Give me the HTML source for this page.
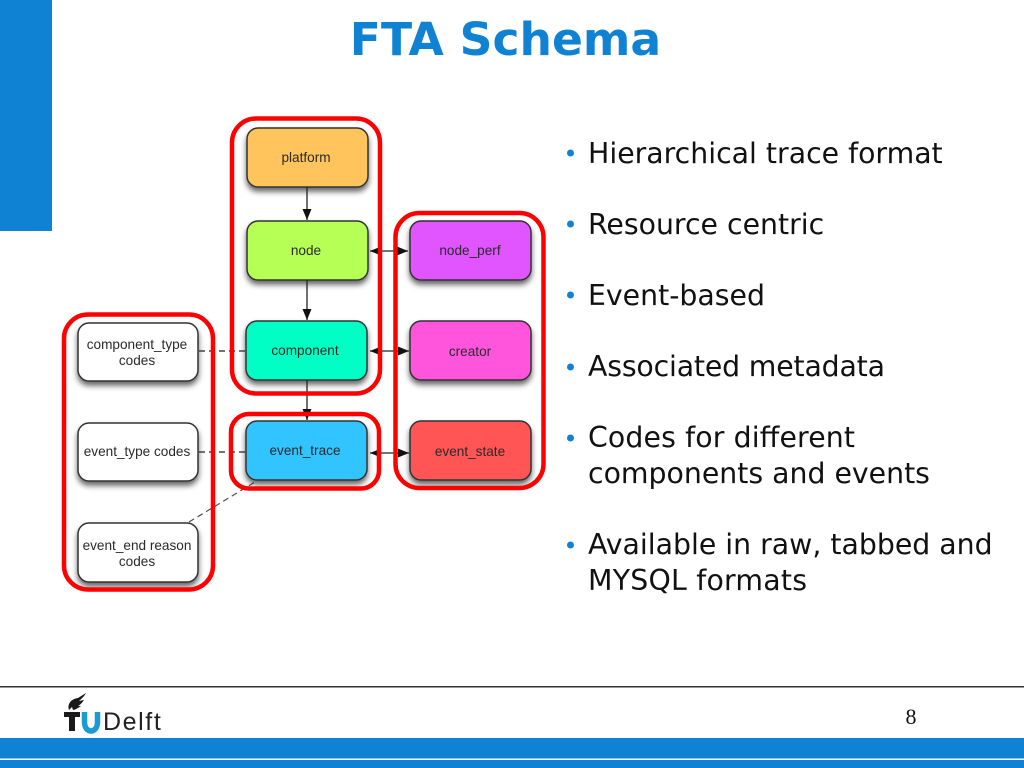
<!DOCTYPE html>
<html><head><meta charset="utf-8"><style>
html,body{margin:0;padding:0;background:#fff;width:1024px;height:768px;overflow:hidden}
svg{display:block}
.n{font:13.6px "Liberation Sans",sans-serif;text-anchor:middle;fill:#2a2a2a}
.b{font:28.35px "DejaVu Sans",sans-serif;fill:#111}
.nd{stroke:#333;stroke-width:1.5;filter:url(#s)}
.r{fill:none;stroke:#f00;stroke-width:4.5}
.l{stroke:#222;stroke-width:1.3;fill:none}
.da{stroke:#222;stroke-width:1.2;fill:none;stroke-dasharray:6 4}
</style></head><body>
<svg width="1024" height="768" viewBox="0 0 1024 768" xmlns="http://www.w3.org/2000/svg">
<defs>
<filter id="s" x="-20%" y="-20%" width="140%" height="150%"><feDropShadow dx="0" dy="4" stdDeviation="3" flood-color="#000" flood-opacity=".6"/></filter>
<marker id="a" markerWidth="12" markerHeight="10" refX="11" refY="4.500" orient="auto-start-reverse" markerUnits="userSpaceOnUse"><path d="M0 0L11 4.500L0 9Z" fill="#111"/></marker>
</defs>
<rect width="1024" height="768" fill="#fff"/>
<rect x="0" y="0" width="52" height="231" fill="#0f82d4"/>
<text x="505.500" y="55" font-family="DejaVu Sans" font-weight="bold" font-size="45.6" text-anchor="middle" fill="#0f82d4">FTA Schema</text>

<rect class="nd" x="247" y="128" width="121" height="59" rx="11" fill="#ffc45c"/>
<rect class="nd" x="247" y="221" width="121" height="59" rx="11" fill="#b6ff55"/>
<rect class="nd" x="246" y="321" width="121" height="59" rx="11" fill="#00ffc4"/>
<rect class="nd" x="246" y="421" width="121" height="59" rx="11" fill="#33c4ff"/>
<rect class="nd" x="410" y="221" width="121" height="59" rx="11" fill="#e055ff"/>
<rect class="nd" x="410" y="321" width="121" height="59" rx="11" fill="#ff55dc"/>
<rect class="nd" x="410" y="421" width="121" height="59" rx="11" fill="#ff5555"/>
<rect class="nd" x="78" y="323" width="120" height="58" rx="11" fill="#fff"/>
<rect class="nd" x="78" y="423" width="120" height="58" rx="11" fill="#fff"/>
<rect class="nd" x="78" y="523" width="120" height="59" rx="11" fill="#fff"/>

<line class="l" x1="307" y1="187" x2="307" y2="220" marker-end="url(#a)"/>
<line class="l" x1="307" y1="280" x2="307" y2="320" marker-end="url(#a)"/>
<line class="l" x1="307" y1="380" x2="307" y2="420" marker-end="url(#a)"/>
<line class="l" x1="370" y1="251" x2="408" y2="251" marker-start="url(#a)" marker-end="url(#a)"/>
<line class="l" x1="370" y1="351" x2="409" y2="351" marker-start="url(#a)" marker-end="url(#a)"/>
<line class="l" x1="370" y1="453" x2="409" y2="453" marker-start="url(#a)" marker-end="url(#a)"/>
<line class="da" x1="199" y1="351" x2="245" y2="351"/>
<line class="da" x1="199" y1="452" x2="245" y2="452"/>
<line class="da" x1="189" y1="522" x2="255" y2="482" stroke-opacity=".8"/>

<text class="n" x="306" y="162">platform</text>
<text class="n" x="306" y="255">node</text>
<text class="n" x="305" y="355">component</text>
<text class="n" x="305" y="455">event_trace</text>
<text class="n" x="470" y="255">node_perf</text>
<text class="n" x="470" y="356">creator</text>
<text class="n" x="470" y="456">event_state</text>
<text class="n" x="137" y="349">component_type</text>
<text class="n" x="137" y="365">codes</text>
<text class="n" x="137" y="456">event_type codes</text>
<text class="n" x="137" y="550">event_end reason</text>
<text class="n" x="137" y="566">codes</text>

<rect class="r" x="232" y="118.500" width="148" height="275" rx="24"/>
<rect class="r" x="395.500" y="213" width="148" height="275" rx="24"/>
<rect class="r" x="64" y="314.500" width="149" height="275" rx="24"/>
<rect class="r" x="231" y="414" width="148" height="74.500" rx="18"/>

<g fill="#0f82d4">
<circle cx="570.500" cy="153" r="3.500"/><circle cx="570.500" cy="224" r="3.500"/><circle cx="570.500" cy="295" r="3.500"/>
<circle cx="570.500" cy="367" r="3.500"/><circle cx="570.500" cy="438" r="3.500"/><circle cx="570.500" cy="545" r="3.500"/>
</g>
<text class="b" x="588" y="163">Hierarchical trace format</text>
<text class="b" x="588" y="234">Resource centric</text>
<text class="b" x="588" y="305">Event-based</text>
<text class="b" x="588" y="376" textLength="297">Associated metadata</text>
<text class="b" x="588" y="447" textLength="267">Codes for different</text>
<text class="b" x="588" y="483">components and events</text>
<text class="b" x="588" y="554">Available in raw, tabbed and</text>
<text class="b" x="588" y="590" textLength="219">MYSQL formats</text>

<rect x="0" y="686" width="1024" height="1.500" fill="#333"/>
<path d="M69 710C67 704 71 699 78 698L86 693C84 697 81 699 79 701L84 700C82 703 80 705 78 706L81 706C78 708 75 710 73 710L72 707C71 708 70 709 69 710Z" fill="#1a1a1a"/>
<rect x="64" y="712" width="16" height="5" fill="#1a1a1a"/>
<rect x="69" y="712" width="6" height="19" fill="#1a1a1a"/>
<path d="M84.500 712V722C84.500 734 97.500 734 97.500 722V712" fill="none" stroke="#1a9ad6" stroke-width="5.500"/>
<text x="103" y="730" font-family="Liberation Sans" font-size="25" letter-spacing="1.600" fill="#222">Delft</text>
<text x="911" y="724" font-family="Liberation Serif" font-size="22" text-anchor="middle" fill="#111">8</text>
<rect x="0" y="738" width="1024" height="30" fill="#0f82d4"/>
<rect x="0" y="758.500" width="1024" height="1.500" fill="#fff"/>
</svg>
</body></html>
